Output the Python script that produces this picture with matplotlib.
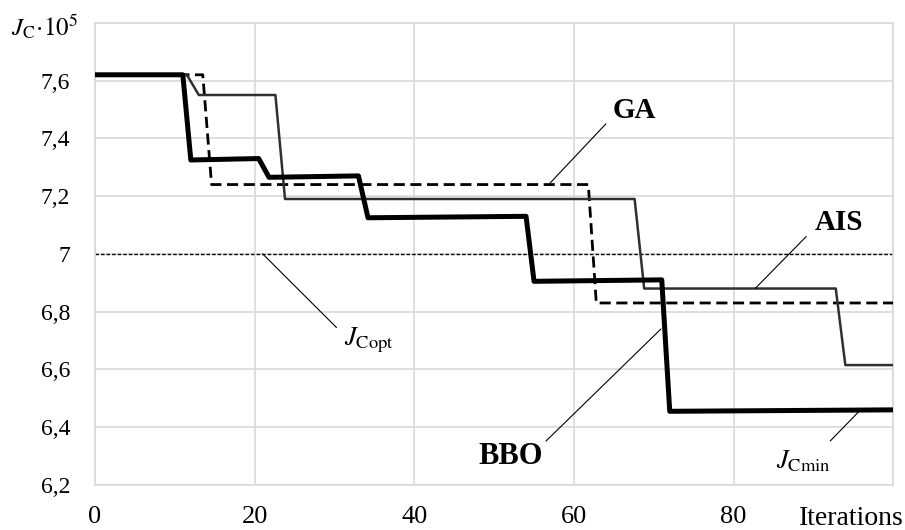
import matplotlib.pyplot as plt

plt.rcParams['font.family'] = 'Liberation Serif'
plt.rcParams['mathtext.fontset'] = 'stix'

# step curves: (iteration, J_C * 1e-5) break points
bbo_x = [0, 11, 12, 20.5, 21.8, 33, 34.2, 54, 55, 71, 72, 100]
bbo_y = [7.62, 7.62, 7.325, 7.33, 7.265, 7.27, 7.125, 7.13, 6.905, 6.91, 6.455, 6.46]

ais_x = [0, 11.5, 13, 22.6, 23.8, 67.6, 68.8, 92.8, 94, 100]
ais_y = [7.62, 7.62, 7.55, 7.55, 7.19, 7.19, 6.88, 6.88, 6.615, 6.615]

ga_x = [0, 13.5, 14.6, 61.8, 62.8, 100]
ga_y = [7.62, 7.62, 7.24, 7.24, 6.83, 6.83]

j_copt = 7.0

y_ticks = [6.2, 6.4, 6.6, 6.8, 7.0, 7.2, 7.4, 7.6]
y_labels = ['6,2', '6,4', '6,6', '6,8', '7', '7,2', '7,4', '7,6']
x_ticks = [0, 20, 40, 60, 80]
x_labels = ['0', '20', '40', '60', '80']

fig = plt.figure(figsize=(9.05, 5.3), dpi=100)
ax = fig.add_axes([0.105, 0.085, 0.882, 0.872])

ax.axhline(j_copt, color='black', lw=1.0, dashes=(2.5, 1.5), zorder=2)
ax.plot(ga_x, ga_y, color='black', lw=2.0, dashes=(4, 2), zorder=3)
ax.plot(ais_x, ais_y, color='#303030', lw=1.8, zorder=3)
ax.plot(bbo_x, bbo_y, color='black', lw=3.6, zorder=4)

ax.set_xlim(0, 100)
ax.set_ylim(6.2, 7.8)
ax.set_xticks(x_ticks + [100])
ax.set_xticklabels(x_labels + [''])
ax.set_yticks(y_ticks + [7.8])
ax.set_yticklabels(y_labels + [''])
ax.tick_params(length=0)
ax.tick_params(axis='y', labelsize=17, pad=18)
ax.tick_params(axis='x', labelsize=19, pad=15)
ax.grid(True, color='#d9d9d9', lw=1.2)
for s in ax.spines.values():
    s.set_color('#d9d9d9')
    s.set_linewidth(1.2)

ax.text(101.3, 6.2 - 0.115, 'Iterations', ha='right', va='center', fontsize=20,
        clip_on=False)
fig.text(0.012, 0.95, r'$J_{\rm C}\!\cdot\!10^5$', fontsize=18, ha='left', va='center')

# annotations
lead = dict(arrowstyle='-', color='black', lw=0.8, shrinkA=0, shrinkB=0)
ax.annotate('', xy=(57, 7.245), xytext=(64, 7.45), arrowprops=lead)
ax.text(67.6, 7.497, 'GA', fontsize=21, fontweight='bold', ha='center', va='center')
ax.annotate('', xy=(82.7, 6.88), xytext=(89.1, 7.06), arrowprops=lead)
ax.text(93.25, 7.11, 'AIS', fontsize=21, fontweight='bold', ha='center', va='center')
ax.annotate('', xy=(70.9, 6.74), xytext=(56.5, 6.352), arrowprops=lead)
ax.text(52.1, 6.297, 'BBO', fontsize=22, fontweight='bold', ha='center', va='center')
ax.annotate('', xy=(21, 7.0), xytext=(30.25, 6.745), arrowprops=lead)
ax.text(34.3, 6.70, r'$J_{\rm Copt}$', fontsize=19, ha='center', va='center')
ax.annotate('', xy=(95.9, 6.46), xytext=(92.1, 6.352), arrowprops=lead)
ax.text(88.8, 6.283, r'$J_{\rm Cmin}$', fontsize=19, ha='center', va='center')

fig.savefig('out.png', dpi=100)
